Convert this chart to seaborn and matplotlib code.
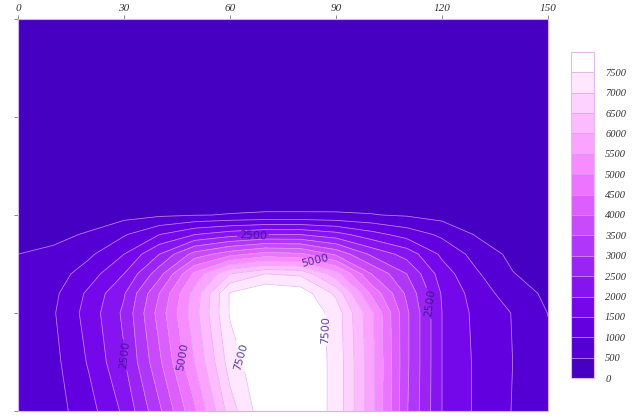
import numpy as np
import matplotlib
matplotlib.use("Agg")
import matplotlib.pyplot as plt
from matplotlib.colors import ListedColormap, BoundaryNorm
import seaborn as sns

# Grid coordinates: horizontal distance and depth (depth grows downward)
x_pos = [0, 10, 20, 30, 40, 50, 60, 70, 80, 90, 100, 110, 120, 130, 140, 150]
depth = [0.0, 1.0, 1.8, 2.0, 2.2, 2.4, 2.6, 2.8, 3.0, 3.5, 4.0]

# Field values, one row per depth
row_d00 = [0] * 16
row_d10 = [10, 12, 15, 20, 25, 30, 35, 35, 35, 35, 30, 25, 20, 15, 10, 8]
row_d18 = [60, 80, 110, 150, 200, 230, 250, 250, 250, 240, 220, 180, 120, 80, 50, 30]
row_d20 = [120, 170, 250, 330, 420, 480, 520, 550, 550, 550, 520, 450, 320, 200, 120, 60]
row_d22 = [300, 380, 550, 950, 1500, 2000, 2300, 2500, 2500, 2200, 1700, 1300, 900, 450, 220, 100]
row_d24 = [500, 600, 900, 1500, 2500, 3700, 4300, 4700, 4600, 3900, 2900, 2300, 1400, 800, 380, 180]
row_d26 = [600, 750, 1250, 2000, 3300, 5100, 6500, 7000, 6900, 5700, 4000, 3000, 1750, 1050, 520, 280]
row_d28 = [680, 880, 1600, 2450, 4000, 5700, 7550, 7950, 7800, 6900, 4900, 3400, 1950, 1250, 750, 400]
row_d30 = [700, 950, 1700, 2600, 4200, 5800, 7550, 7950, 7950, 7300, 5600, 3600, 2000, 1350, 980, 490]
row_d35 = [680, 850, 1550, 2450, 3900, 5500, 7250, 7950, 7950, 7350, 5700, 3600, 2000, 1400, 1000, 620]
row_d40 = [650, 780, 1300, 2100, 3400, 4900, 6750, 7900, 7950, 7350, 5700, 3550, 2000, 1400, 980, 650]

levels = list(range(0, 8001, 500))
tick_x = [0, 30, 60, 90, 120, 150]
tick_depth = [0, 1, 2, 3, 4]
labelled_levels = [2500, 5000, 7500]
band_colors = ["#4600c2", "#5400d4", "#6200e0", "#7408ea", "#8614f0", "#9a24f4",
               "#b036f8", "#c84afb", "#dc5efd", "#ec74fe", "#f68cff", "#faa4ff",
               "#fcbcff", "#fed2ff", "#ffe8ff", "#ffffff"]

Z = np.array([row_d00, row_d10, row_d18, row_d20, row_d22, row_d24,
              row_d26, row_d28, row_d30, row_d35, row_d40], dtype=float)
X, Y = np.meshgrid(x_pos, depth)

sns.set_theme(style="white")
plt.rcParams["font.family"] = ["DejaVu Sans"]

palette = sns.color_palette(band_colors)
cmap = ListedColormap(palette)
norm = BoundaryNorm(levels, cmap.N)

fig = plt.figure(figsize=(6.37, 4.19), dpi=100)
ax = fig.add_axes([18 / 637, 8 / 419, 530 / 637, 392 / 419])
cax = fig.add_axes([571 / 637, 41 / 419, 23 / 637, 326 / 419])

cf = ax.contourf(X, Y, Z, levels=levels, cmap=cmap, norm=norm)

line_kw = dict(colors="#dca6f2", linewidths=0.55, alpha=0.8)
plain_levels = [v for v in levels[1:-1] if v not in labelled_levels]
ax.contour(X, Y, Z, levels=plain_levels, **line_kw)
cl_lab = ax.contour(X, Y, Z, levels=labelled_levels, **line_kw)

label_spots = [(66.5, 2.2), (30.3, 3.43), (116.5, 2.9),
               (46.6, 3.45), (84.0, 2.48),
               (64.2, 3.43), (88.3, 3.17)]
ax.clabel(cl_lab, fmt="%d", fontsize=7.8, colors="#2c1680",
          inline=True, inline_spacing=2, manual=label_spots)

ax.set_xlim(0, 150)
ax.set_ylim(4, 0)
ax.set_xticks(tick_x)
ax.set_xticklabels([str(v) for v in tick_x], fontstyle="italic",
                   family="Liberation Serif", fontsize=8, color="#333333")
ax.set_yticks(tick_depth)
ax.set_yticklabels([])
ax.xaxis.tick_top()
ax.tick_params(axis="x", which="both", top=True, bottom=False, length=3,
               width=0.6, color="#777777", pad=1)
ax.tick_params(axis="y", which="both", left=True, length=3, width=0.6,
               color="#777777")
for sp in ax.spines.values():
    sp.set_color("#d6b0f2")
    sp.set_linewidth(0.8)

cbar = fig.colorbar(cf, cax=cax, ticks=levels[:-1], drawedges=True)
cbar.minorticks_off()
cbar.ax.set_yticklabels([str(v) for v in levels[:-1]], fontstyle="italic",
                        family="Liberation Serif", fontsize=7.5, color="#333333")
cbar.ax.tick_params(which="both", length=0, pad=8)
cbar.outline.set_edgecolor("#e2b8f2")
cbar.outline.set_linewidth(0.8)
cbar.dividers.set_color("#d7a0ee")
cbar.dividers.set_linewidth(0.5)

fig.savefig("out.png", dpi=100)
